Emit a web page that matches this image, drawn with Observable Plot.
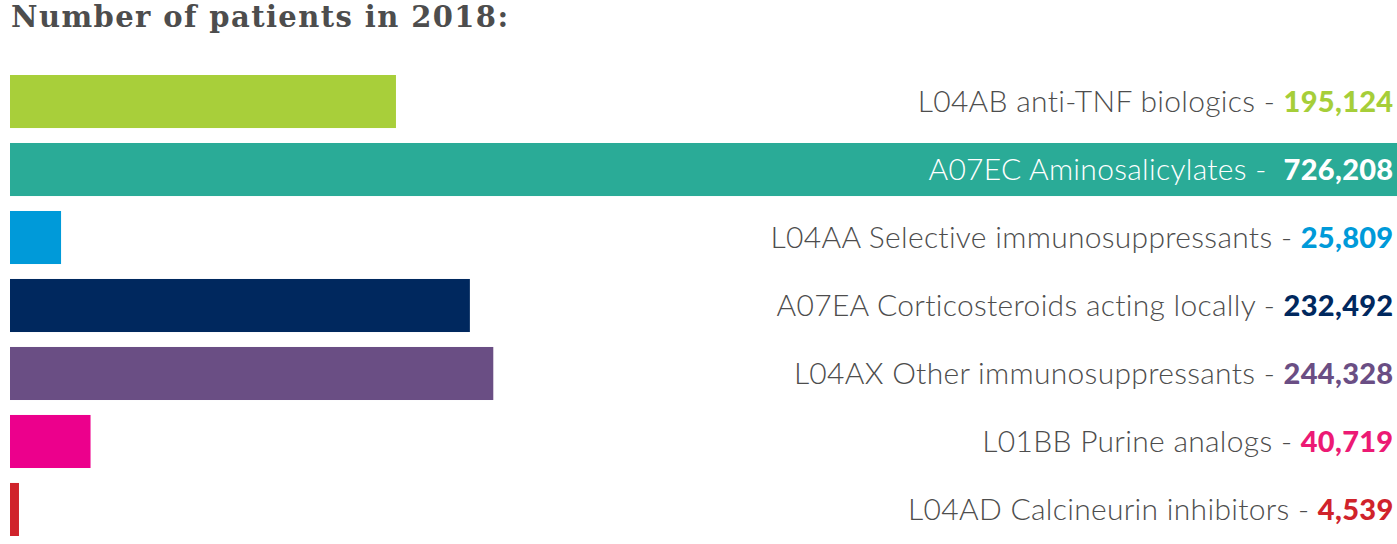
<!DOCTYPE html>
<html><head><meta charset="utf-8">
<script src="https://cdn.jsdelivr.net/npm/d3@7"></script>
<script src="https://cdn.jsdelivr.net/npm/@observablehq/plot@0.6"></script>
<style>
body{margin:0;background:#fff;overflow:hidden;}
#wrap{position:relative;width:1397px;height:544px;}
#title{position:absolute;left:11px;top:3px;margin:0;font-family:"DejaVu Serif";font-weight:bold;font-size:29px;letter-spacing:1.4px;line-height:1;color:#4d4d4d;white-space:nowrap;}
#chart{position:absolute;left:0;top:60px;}
</style></head>
<body>
<div id="wrap">
<div id="title">Number of patients in 2018:</div>
<div id="chart"></div>
</div>
<script>
const categories = [
  "L04AB anti-TNF biologics",
  "A07EC Aminosalicylates",
  "L04AA Selective immunosuppressants",
  "A07EA Corticosteroids acting locally",
  "L04AX Other immunosuppressants",
  "L01BB Purine analogs",
  "L04AD Calcineurin inhibitors"
];
const values = [195124, 726208, 25809, 232492, 244328, 40719, 4539];
const barColors = ["#a8cf3a", "#2aab97", "#009ad9", "#00285e", "#6a4e84", "#ec008c", "#d0232b"];
const valueColors = ["#a6ce39", "#ffffff", "#009ad9", "#00285e", "#6a4e84", "#ec1a74", "#d0232b"];
const labelColors = ["#4d4d4d", "#ffffff", "#4d4d4d", "#4d4d4d", "#4d4d4d", "#4d4d4d", "#4d4d4d"];
const separators = [" - ", " -  ", " - ", " - ", " - ", " - ", " - "];

const data = categories.map((c, i) => ({
  cat: c, value: values[i], bar: barColors[i], vcol: valueColors[i], lcol: labelColors[i], sep: separators[i]
}));
const fmt = d3.format(",");

const svg = Plot.plot({
  width: 1397,
  height: 484,
  marginLeft: 10,
  marginRight: 0,
  marginTop: 15,
  marginBottom: 8,
  x: {domain: [0, 701200], axis: null},
  y: {domain: categories, axis: null, paddingInner: 0.22, paddingOuter: 0, round: false},
  color: {type: "identity"},
  marks: [
    Plot.barX(data, {y: "cat", x: "value", fill: "bar", clip: true}),
    Plot.text(data, {
      y: "cat", frameAnchor: "right", dx: -4, textAnchor: "end",
      text: d => d.cat + d.sep, fill: "lcol",
      fontFamily: "Lato", fontWeight: 300, fontSize: 30
    })
  ]
});

// append the bold coloured values as tspans inside each label
const texts = svg.querySelectorAll('g[aria-label="text"] text');
texts.forEach((t, i) => {
  t.setAttribute("letter-spacing", "0.3");
  const ts = document.createElementNS("http://www.w3.org/2000/svg", "tspan");
  ts.textContent = fmt(values[i]);
  ts.setAttribute("fill", valueColors[i]);
  ts.setAttribute("font-weight", "900");
  ts.setAttribute("font-size", "29");
  ts.setAttribute("letter-spacing", "0.3");
  t.appendChild(ts);
});
svg.style.overflow = "hidden";
document.getElementById("chart").appendChild(svg);
</script>
</body></html>
